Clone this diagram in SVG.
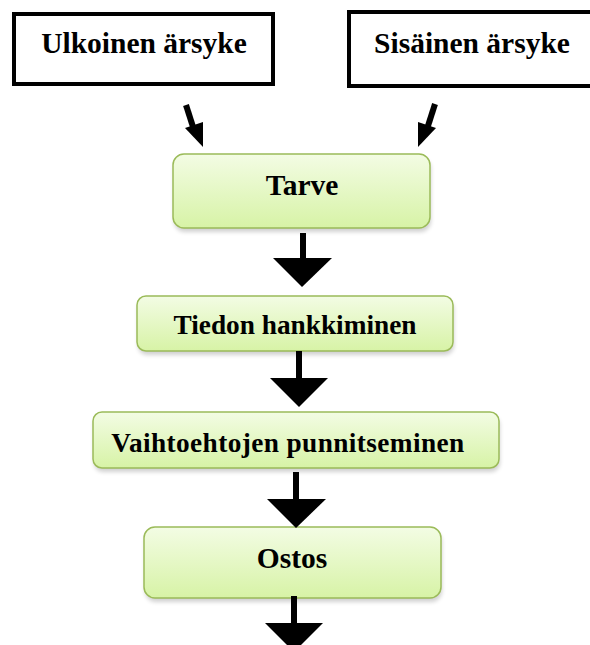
<svg xmlns="http://www.w3.org/2000/svg" width="590" height="645" viewBox="0 0 590 645">
<style>
.src{fill:#fff;stroke:#000;stroke-width:4}
.step{fill:url(#g);stroke:#9bbb59;stroke-width:1.5}
.sh{fill:#000;opacity:0.18;filter:url(#blur)}
text{font-family:"Liberation Serif","Times New Roman",serif;font-weight:bold;fill:#000;text-anchor:middle}
.big{font-size:29.5px}
.mid{font-size:27.3px}
.arr{fill:#000;stroke:none}
.shaft{stroke:#000;stroke-width:6;fill:none}
</style>
<defs>
<linearGradient id="g" x1="0" y1="0" x2="0" y2="1">
<stop offset="0" stop-color="#f3fce4"/>
<stop offset="1" stop-color="#d7f3a6"/>
</linearGradient>
<filter id="blur" x="-10%" y="-20%" width="120%" height="150%"><feGaussianBlur stdDeviation="2"/></filter>
</defs>
<rect width="590" height="645" fill="#fff"/>
<g id="ulkoinen">
<rect class="src" x="14" y="14" width="259" height="70"/>
<text class="big" x="144" y="53">Ulkoinen ärsyke</text>
</g>
<g id="sisainen">
<rect class="src" x="349" y="12" width="260" height="74"/>
<text class="big" x="472" y="53">Sisäinen ärsyke</text>
</g>
<g id="tarve">
<rect class="sh" x="174" y="158" width="257" height="74" rx="11"/>
<rect class="step" x="173" y="154" width="257" height="74" rx="11"/>
<text class="big" x="302" y="195">Tarve</text>
</g>
<g id="tiedon">
<rect class="sh" x="138" y="300" width="316" height="55" rx="9"/>
<rect class="step" x="137" y="296" width="316" height="55" rx="9"/>
<text class="mid" x="295" y="334">Tiedon hankkiminen</text>
</g>
<g id="vaihtoehtojen">
<rect class="sh" x="94" y="416" width="406" height="56" rx="9"/>
<rect class="step" x="93" y="412" width="406" height="56" rx="9"/>
<text class="mid" x="288" y="452" letter-spacing="0.4">Vaihtoehtojen punnitseminen</text>
</g>
<g id="ostos">
<rect class="sh" x="145" y="531" width="297" height="71" rx="11"/>
<rect class="step" x="144" y="527" width="297" height="71" rx="11"/>
<text class="big" x="292" y="568">Ostos</text>
</g>
<g id="connectors">
<line class="shaft" x1="186" y1="105" x2="194" y2="130" stroke-width="7"/>
<polygon class="arr" points="185,128 203,122 203,147"/>
<line class="shaft" x1="435" y1="104" x2="427" y2="129" stroke-width="7"/>
<polygon class="arr" points="418,122 436,128 418,147"/>
<line class="shaft" x1="303" y1="233" x2="303" y2="260"/>
<polygon class="arr" points="273,258 332,258 302,287"/>
<line class="shaft" x1="299" y1="351" x2="299" y2="380"/>
<polygon class="arr" points="270,378 328,378 299,407"/>
<line class="shaft" x1="296" y1="472" x2="296" y2="501"/>
<polygon class="arr" points="267,499 326,499 296,528"/>
<line class="shaft" x1="294" y1="596" x2="294" y2="625"/>
<polygon class="arr" points="265,623 323,623 294,652"/>
</g>
</svg>
